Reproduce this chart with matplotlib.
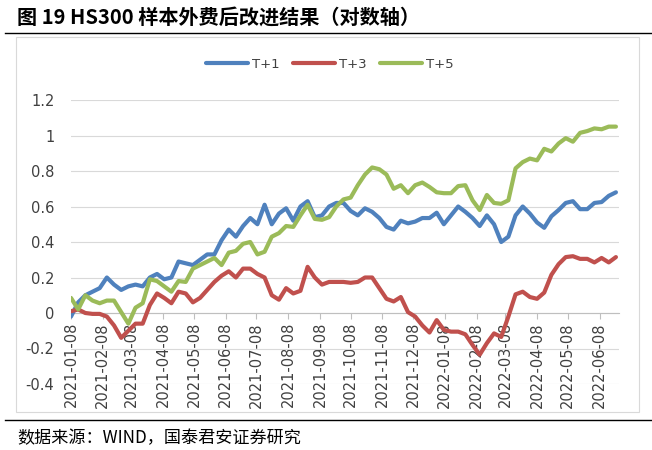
import matplotlib
matplotlib.use('Agg')
import matplotlib.pyplot as plt
from matplotlib.lines import Line2D
from matplotlib.patches import Rectangle
import pandas as pd

# ---------------- data ----------------
dates = pd.date_range('2021-01-08', periods=77, freq='7D')

t1 = [-0.02, 0.06, 0.10, 0.12, 0.14, 0.20, 0.16, 0.13, 0.15, 0.16,
      0.15, 0.20, 0.22, 0.19, 0.20, 0.29, 0.28, 0.27, 0.30, 0.33,
      0.33, 0.41, 0.47, 0.43, 0.49, 0.535, 0.50, 0.61, 0.50, 0.56,
      0.59, 0.52, 0.60, 0.63, 0.54, 0.55, 0.60, 0.62, 0.62, 0.575,
      0.55, 0.59, 0.57, 0.535, 0.485, 0.47, 0.52, 0.505, 0.515, 0.535,
      0.535, 0.565, 0.50, 0.55, 0.60, 0.57, 0.535, 0.49, 0.55, 0.50,
      0.40, 0.43, 0.55, 0.60, 0.56, 0.51, 0.48, 0.545, 0.58, 0.62,
      0.63, 0.585, 0.585, 0.62, 0.625, 0.66, 0.68]

t3 = [0.01, 0.02, 0.0, -0.005, -0.005, -0.02, -0.07, -0.14, -0.10, -0.06,
      -0.06, 0.045, 0.11, 0.085, 0.055, 0.12, 0.11, 0.06, 0.085, 0.13,
      0.175, 0.21, 0.235, 0.20, 0.25, 0.25, 0.22, 0.20, 0.10, 0.075,
      0.14, 0.11, 0.125, 0.26, 0.20, 0.16, 0.175, 0.175, 0.175, 0.17,
      0.175, 0.20, 0.20, 0.14, 0.08, 0.065, 0.09, 0.005, -0.02, -0.07,
      -0.11, -0.04, -0.095, -0.105, -0.105, -0.12, -0.18, -0.235, -0.17, -0.115,
      -0.135, -0.02, 0.105, 0.12, 0.09, 0.08, 0.115, 0.215, 0.275, 0.315,
      0.32, 0.305, 0.305, 0.285, 0.31, 0.285, 0.315]

t5 = [0.085, 0.02, 0.10, 0.07, 0.055, 0.07, 0.07, 0.005, -0.06, 0.03,
      0.055, 0.19, 0.18, 0.15, 0.12, 0.18, 0.175, 0.25, 0.27, 0.29,
      0.31, 0.27, 0.34, 0.35, 0.39, 0.40, 0.33, 0.345, 0.43, 0.45,
      0.49, 0.485, 0.55, 0.61, 0.53, 0.525, 0.54, 0.60, 0.64, 0.65,
      0.72, 0.78, 0.82, 0.81, 0.78, 0.70, 0.72, 0.675, 0.72, 0.735,
      0.71, 0.68, 0.675, 0.675, 0.715, 0.72, 0.635, 0.58, 0.665, 0.62,
      0.615, 0.635, 0.815, 0.85, 0.87, 0.86, 0.925, 0.91, 0.955, 0.985,
      0.965, 1.015, 1.025, 1.04, 1.035, 1.05, 1.05]

series_names = ['T+1', 'T+3', 'T+5']
series_colors = ['#4F81BD', '#C0504D', '#9BBB59']

tick_dates = [pd.Timestamp(2021 + m // 12, m % 12 + 1, 8) for m in range(18)]
tick_labels = [d.strftime('%Y-%m-%d') for d in tick_dates]
ytick_values = [-0.4, -0.2, 0, 0.2, 0.4, 0.6, 0.8, 1.0, 1.2]
ytick_labels = ['-0.4', '-0.2', '0', '0.2', '0.4', '0.6', '0.8', '1', '1.2']

title = '图 19 HS300 样本外费后改进结果（对数轴）'
source = '数据来源：WIND，国泰君安证券研究'

# ---------------- layout ----------------
W, H = 652, 450
def fx(px):
    return px / W
def fy(py):
    return 1 - py / H

CJK = ['Noto Sans CJK SC', 'DejaVu Sans']
TXT = '#404040'

fig = plt.figure(figsize=(W / 100, H / 100), dpi=100)
fig.patch.set_facecolor('white')

ax = fig.add_axes([fx(71), fy(384), fx(619) - fx(71), fy(100) - fy(384)])
ax.set_facecolor('none')

handles = []
for vals, name, col in zip([t1, t3, t5], series_names, series_colors):
    h, = ax.plot(dates, vals, color=col, lw=3.0, label=name, zorder=3,
                 solid_joinstyle='round', solid_capstyle='round')
    handles.append(h)

ax.set_ylim(-0.4, 1.2)
ax.set_xlim(dates[0], dates[0] + pd.Timedelta(days=535))
ax.set_yticks(ytick_values)
ax.set_yticklabels(ytick_labels)
ax.set_xticks(tick_dates)
ax.set_xticklabels(tick_labels)

ax.grid(axis='y', color='#d9d9d9', lw=0.8)
ax.grid(axis='x', visible=False)
ax.set_axisbelow(True)
for s in ['top', 'right', 'left']:
    ax.spines[s].set_visible(False)
ax.spines['bottom'].set_position(('data', 0))
ax.spines['bottom'].set_color('#bfbfbf')
ax.spines['bottom'].set_linewidth(0.8)
ax.tick_params(axis='x', direction='out', length=4.5, width=0.8, color='#bfbfbf',
               pad=2, labelsize=10.5, labelcolor=TXT, labelrotation=90)
ax.tick_params(axis='y', length=0, pad=12, labelsize=10.5, labelcolor=TXT)
for lab in ax.get_xticklabels():
    lab.set_rotation(90)
    lab.set_ha('center')
    lab.set_va('top')

leg = fig.legend(handles, series_names, loc='center',
                 bbox_to_anchor=(fx(330), fy(64)), ncol=3, frameon=False,
                 handlelength=3.2, handletextpad=0.3, columnspacing=1.0,
                 fontsize=9.5)
for t in leg.get_texts():
    t.set_color(TXT)

# chart border
fig.add_artist(Rectangle((fx(16), fy(412)), fx(639) - fx(16), fy(37) - fy(412),
                         transform=fig.transFigure, fill=False,
                         edgecolor='#d9d9d9', lw=0.8))
# rules
fig.add_artist(Line2D([fx(5), 1], [fy(33), fy(33)], color='black', lw=1.0,
                      transform=fig.transFigure))
fig.add_artist(Line2D([fx(5), 1], [fy(420), fy(420)], color='black', lw=1.0,
                      transform=fig.transFigure))

fig.text(fx(17), fy(17), title, fontsize=14.5, fontweight='bold', family=CJK,
         ha='left', va='center', color='black')
fig.text(fx(17), fy(438), source, fontsize=12.3, family=CJK,
         ha='left', va='center', color='black')

fig.savefig('out.png', dpi=100, facecolor='white')
